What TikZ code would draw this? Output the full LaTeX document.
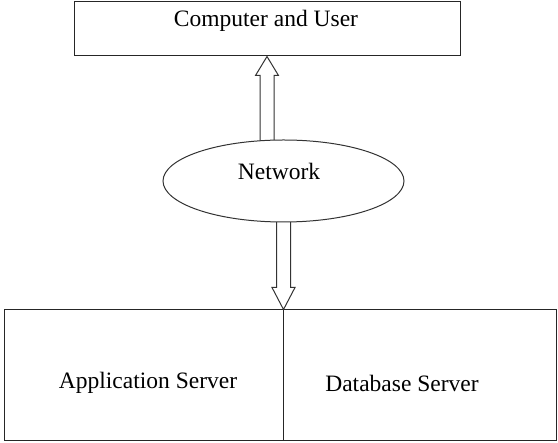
\documentclass[tikz,border=0pt]{standalone}
\usepackage{fontspec}
\setmainfont{Liberation Serif}
\usetikzlibrary{calc,shapes.geometric}
\begin{document}
\begin{tikzpicture}[x=1pt,y=-1pt,
  box/.style={draw=black!85,line width=1pt,rectangle,inner sep=0pt},
  lbl/.style={font=\fontsize{23.5}{28}\selectfont,inner sep=0pt,text=black},
  hollow/.style={draw=black!80,line width=1pt,fill=white,line join=miter}]
\useasboundingbox (0,0) rectangle (558,443);
% boxes
\node[box,minimum width=386pt,minimum height=54pt] (cu) at (267,29) {};
\node[box,minimum width=279pt,minimum height=131pt] (app) at (143.5,375.5) {};
\node[box,minimum width=273pt,minimum height=131pt] (db) at (419.5,375.5) {};
% hollow arrows
\draw[hollow] ($(cu.south)+(-7,100)$) -- ($(cu.south)+(-7,19)$) -- ($(cu.south)+(-11.5,19)$)
  -- (cu.south) -- ($(cu.south)+(11.5,19)$) -- ($(cu.south)+(7,19)$) -- ($(cu.south)+(7,100)$);
\draw[hollow] ($(app.north east)+(-7,-100)$) -- ($(app.north east)+(-7,-22)$) -- ($(app.north east)+(-11.5,-22)$)
  -- (app.north east) -- ($(app.north east)+(11.5,-22)$) -- ($(app.north east)+(7,-22)$) -- ($(app.north east)+(7,-100)$);
% network
\node[ellipse,draw=black!80,line width=1pt,fill=white,minimum width=241pt,minimum height=82pt,inner sep=0pt] (net) at (283.5,181) {};
% labels
\node[lbl] (tcu) at (266,21) {Computer and User};
\node[lbl] (tnet) at (279,171) {Network};
\node[lbl] (tapp) at (148,383) {Application Server};
\node[lbl] (tdb) at (402,383) {Database Server};
\end{tikzpicture}
\end{document}
